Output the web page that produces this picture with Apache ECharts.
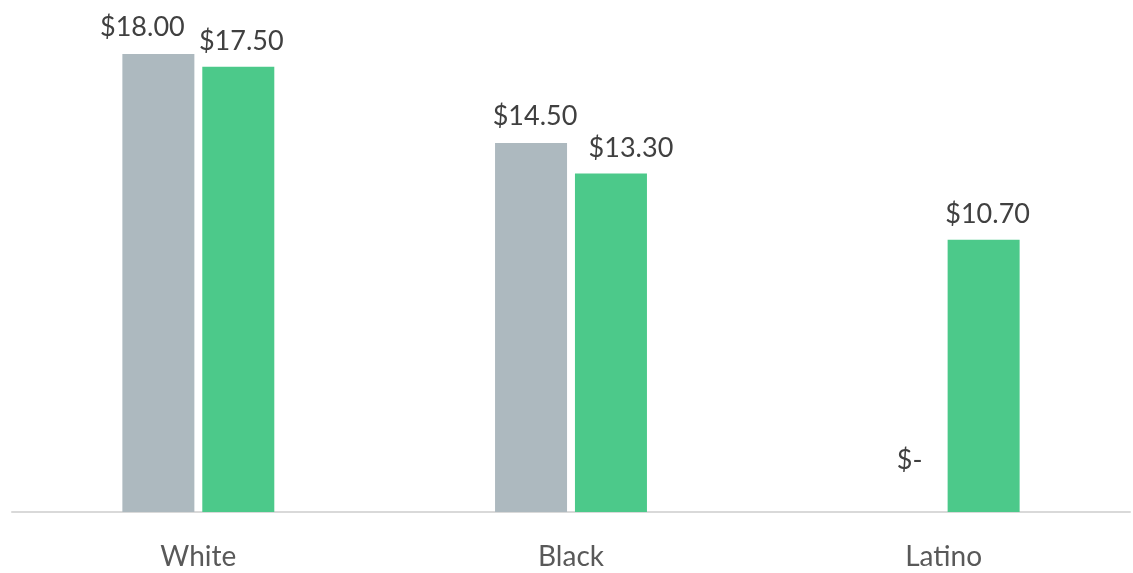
<!DOCTYPE html>
<html>
    <head>
        <meta charset="utf-8">
        <script src="https://cdn.jsdelivr.net/npm/echarts@6/dist/echarts.min.js"></script>
        <style>
            html, body, #main {
                margin: 0;
                width: 1133px;
                height: 573px;
                background: #fff;
            }
        </style>
    </head>
    <body>
        <div id="main"></div>
        <script>
            const categories = ['White', 'Black', 'Latino'];
            const grayValues = [18.0, 14.5, 0];
            const greenValues = [17.5, 13.3, 10.7];

            // label nudges, as in the original chart where labels were moved apart
            const grayLabelOffsets = [[-16, -2], [4, -2], [6, -27]];
            const greenLabelOffsets = [[3, -1], [20, -1], [4, -1]];

            const chart = echarts.init(document.getElementById('main'));

            function money(p) {
                return p.value === 0 ? '$-' : '$' + p.value.toFixed(2);
            }

            const labelStyle = {
                show: true,
                position: 'top',
                distance: 11,
                formatter: money,
                fontFamily: 'Lato',
                fontSize: 27,
                color: '#404040'
            };

            function withOffsets(values, offsets) {
                return values.map(function (v, i) {
                    return { value: v, label: { offset: offsets[i] } };
                });
            }

            chart.setOption({
                animation: false,
                grid: { left: 12, right: 3, top: 54, bottom: 61 },
                xAxis: {
                    type: 'category',
                    data: categories,
                    axisLine: { lineStyle: { color: '#d9d9d9', width: 2 } },
                    axisTick: { show: false },
                    axisLabel: {
                        fontFamily: 'Lato',
                        fontSize: 28,
                        color: '#595959',
                        margin: 31
                    }
                },
                yAxis: {
                    type: 'value',
                    min: 0,
                    max: 18,
                    show: false,
                    splitLine: { show: false }
                },
                series: [{
                    type: 'bar',
                    name: 'gray',
                    data: withOffsets(grayValues, grayLabelOffsets),
                    itemStyle: { color: '#adb9bf' },
                    barWidth: 72,
                    barGap: '11%',
                    label: labelStyle
                }, {
                    type: 'bar',
                    name: 'green',
                    data: withOffsets(greenValues, greenLabelOffsets),
                    itemStyle: { color: '#4cc98a' },
                    barWidth: 72,
                    label: labelStyle
                }]
            });
        </script>
    </body>
</html>
